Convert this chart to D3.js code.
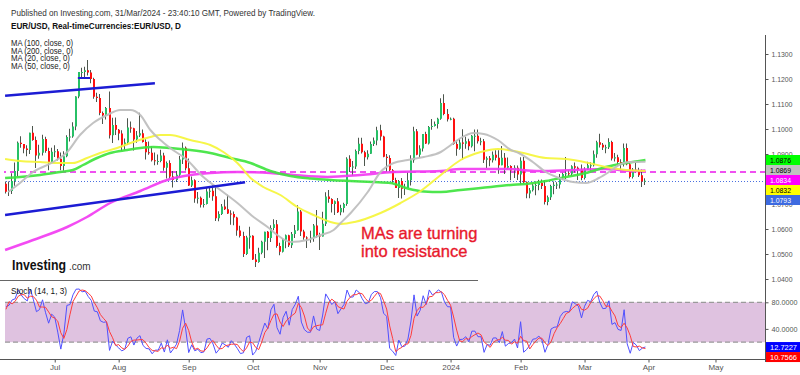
<!DOCTYPE html>
<html><head><meta charset="utf-8">
<script src="https://cdn.jsdelivr.net/npm/d3@7"></script>
<style>body{margin:0;background:#fff}svg{display:block;font-family:Arial,"Liberation Sans",sans-serif}</style>
</head><body><svg id="c" width="800" height="375"></svg>
<script>
// ---------- DATA (EUR/USD daily, [open, high, low, close]) ----------
const firstDay = '2023-05-23';
// history before the visible window (feeds the oscillator only)
const barsPre = [
[1.0775,1.0790,1.0747,1.0770],[1.0770,1.0787,1.0745,1.0751],[1.0751,1.0752,1.0720,1.0725],[1.0725,1.0746,1.0701,1.0722],
[1.0722,1.0730,1.0700,1.0708],[1.0708,1.0737,1.0673,1.0734],[1.0734,1.0736,1.0635,1.0688],[1.0688,1.0779,1.0664,1.0763],
[1.0763,1.0779,1.0706,1.0708],[1.0708,1.0730,1.0675,1.0712],[1.0712,1.0718,1.0667,1.0693],[1.0693,1.0708,1.0666,1.0698],
[1.0698,1.0786,1.0691,1.0781]];
const barsJun = [
[1.0781,1.0790,1.0742,1.0749],[1.0749,1.0790,1.0732,1.0752],[1.0752,1.0823,1.0740,1.0792],[1.0792,1.0866,1.0773,1.0832],
[1.0832,1.0950,1.0810,1.0945],[1.0945,1.0971,1.0925,1.0940],[1.0940,1.0940,1.0903,1.0922],[1.0922,1.0935,1.0891,1.0916],
[1.0916,1.0985,1.0900,1.0985],[1.0985,1.1012,1.0953,1.0956],[1.0956,1.0970,1.0844,1.0894],[1.0894,1.0937,1.0881,1.0905],
[1.0905,1.0977,1.0894,1.0960],[1.0960,1.0969,1.0905,1.0912],[1.0912,1.0925,1.0835,1.0868],[1.0868,1.0925,1.0866,1.0909]];
const barsJul = [
[1.0909,1.0935,1.0888,1.0911],[1.0911,1.0920,1.0874,1.0881],[1.0881,1.0906,1.0835,1.0852],[1.0852,1.0911,1.0833,1.0891],
[1.0891,1.0975,1.0887,1.0968],[1.0968,1.1001,1.0950,1.0970],[1.0970,1.1027,1.0965,1.1010],[1.1010,1.1131,1.0995,1.1130],
[1.1130,1.1228,1.1123,1.1228],[1.1228,1.1245,1.1204,1.1228],[1.1228,1.1249,1.1205,1.1235],[1.1235,1.1276,1.1214,1.1226],
[1.1226,1.1236,1.1183,1.1200],[1.1200,1.1205,1.1121,1.1129],[1.1129,1.1145,1.1108,1.1124],[1.1124,1.1140,1.1055,1.1064],
[1.1064,1.1070,1.1020,1.1054],[1.1054,1.1088,1.1038,1.1084],[1.1084,1.1150,1.0962,1.0975],[1.0975,1.1045,1.0944,1.1016],
[1.1016,1.1046,1.0976,1.0997]];
const barsAug = [
[1.0997,1.1000,1.0955,1.0982],[1.0982,1.0995,1.0912,1.0937],[1.0937,1.0962,1.0915,1.0946],[1.0946,1.1043,1.0936,1.1006],
[1.1006,1.1030,1.0985,1.1003],[1.1003,1.1005,1.0914,1.0958],[1.0958,1.0992,1.0945,1.0974],[1.0974,1.1065,1.0968,1.0983],
[1.0983,1.0998,1.0946,1.0948],[1.0948,1.0959,1.0878,1.0907],[1.0907,1.0950,1.0897,1.0905],[1.0905,1.0932,1.0870,1.0875],
[1.0875,1.0906,1.0855,1.0872],[1.0872,1.0898,1.0857,1.0872],[1.0872,1.0917,1.0867,1.0894],[1.0894,1.0905,1.0833,1.0845],
[1.0845,1.0870,1.0802,1.0864],[1.0864,1.0875,1.0800,1.0810],[1.0810,1.0832,1.0766,1.0796],[1.0796,1.0832,1.0788,1.0817],
[1.0817,1.0892,1.0807,1.0878],[1.0878,1.0946,1.0860,1.0925],[1.0925,1.0930,1.0834,1.0843]];
const barsSep = [
[1.0843,1.0882,1.0772,1.0774],[1.0774,1.0810,1.0768,1.0795],[1.0795,1.0799,1.0705,1.0722],[1.0722,1.0748,1.0702,1.0725],
[1.0725,1.0730,1.0686,1.0697],[1.0697,1.0720,1.0686,1.0700],[1.0700,1.0767,1.0698,1.0750],[1.0750,1.0767,1.0725,1.0753],
[1.0753,1.0775,1.0713,1.0731],[1.0731,1.0769,1.0632,1.0643],[1.0643,1.0671,1.0631,1.0660],[1.0660,1.0700,1.0656,1.0690],
[1.0690,1.0718,1.0676,1.0679],[1.0679,1.0737,1.0660,1.0662],[1.0662,1.0675,1.0617,1.0660],[1.0660,1.0670,1.0615,1.0646],
[1.0646,1.0649,1.0573,1.0594],[1.0594,1.0613,1.0566,1.0572],[1.0572,1.0589,1.0488,1.0500],[1.0500,1.0573,1.0496,1.0566],
[1.0566,1.0609,1.0521,1.0573]];
const barsOct = [
[1.0573,1.0575,1.0476,1.0478],[1.0478,1.0500,1.0448,1.0468],[1.0468,1.0525,1.0465,1.0505],[1.0505,1.0553,1.0499,1.0549],
[1.0549,1.0589,1.0484,1.0589],[1.0589,1.0592,1.0515,1.0564],[1.0564,1.0615,1.0548,1.0604],[1.0604,1.0639,1.0595,1.0619],
[1.0619,1.0636,1.0525,1.0532],[1.0532,1.0545,1.0495,1.0509],[1.0509,1.0561,1.0506,1.0557],[1.0557,1.0578,1.0523,1.0575],
[1.0575,1.0577,1.0528,1.0535],[1.0535,1.0588,1.0524,1.0580],[1.0580,1.0616,1.0564,1.0595],[1.0595,1.0695,1.0593,1.0670],
[1.0670,1.0676,1.0572,1.0590],[1.0590,1.0597,1.0557,1.0566],[1.0566,1.0571,1.0524,1.0565],[1.0565,1.0593,1.0545,1.0565],
[1.0565,1.0620,1.0549,1.0614],[1.0614,1.0676,1.0566,1.0575]];
const barsNov = [
[1.0575,1.0585,1.0516,1.0570],[1.0570,1.0669,1.0570,1.0621],[1.0621,1.0747,1.0612,1.0730],[1.0730,1.0756,1.0705,1.0720],
[1.0720,1.0723,1.0666,1.0700],[1.0700,1.0714,1.0656,1.0711],[1.0711,1.0724,1.0664,1.0667],[1.0667,1.0697,1.0655,1.0684],
[1.0684,1.0705,1.0666,1.0700],[1.0700,1.0887,1.0693,1.0881],[1.0881,1.0895,1.0828,1.0848],[1.0848,1.0872,1.0813,1.0850],
[1.0850,1.0918,1.0840,1.0912],[1.0912,1.0965,1.0899,1.0941],[1.0941,1.0965,1.0902,1.0907],[1.0907,1.0913,1.0852,1.0887],
[1.0887,1.0915,1.0878,1.0901],[1.0901,1.0950,1.0900,1.0940],[1.0940,1.0966,1.0932,1.0954],[1.0954,1.1009,1.0935,1.0995],
[1.0995,1.1017,1.0954,1.0970],[1.0970,1.0973,1.0887,1.0889]];
const barsDec = [
[1.0889,1.0900,1.0828,1.0884],[1.0884,1.0895,1.0827,1.0835],[1.0835,1.0840,1.0781,1.0796],[1.0796,1.0805,1.0764,1.0764],
[1.0764,1.0796,1.0724,1.0792],[1.0792,1.0804,1.0722,1.0761],[1.0761,1.0781,1.0736,1.0764],[1.0764,1.0828,1.0764,1.0795],
[1.0795,1.0895,1.0774,1.0875],[1.0875,1.1009,1.0865,1.0991],[1.0991,1.1000,1.0895,1.0897],[1.0897,1.0935,1.0885,1.0922],
[1.0922,1.0980,1.0910,1.0980],[1.0980,1.0989,1.0940,1.0942],[1.0942,1.1012,1.0938,1.1008],[1.1008,1.1040,1.0997,1.1012],
[1.1012,1.1030,1.1010,1.1020],[1.1020,1.1045,1.1002,1.1041],[1.1041,1.1123,1.1037,1.1104],[1.1104,1.1139,1.1055,1.1060],
[1.1060,1.1080,1.1030,1.1039]];
const barsJan = [
[1.1039,1.1046,1.1035,1.1041],[1.1041,1.1045,1.0937,1.0940],[1.0940,1.0955,1.0893,1.0921],[1.0921,1.0960,1.0917,1.0946],
[1.0946,1.0999,1.0877,1.0941],[1.0941,1.0969,1.0921,1.0951],[1.0951,1.0961,1.0915,1.0931],[1.0931,1.0976,1.0926,1.0973],
[1.0973,1.0998,1.0911,1.0973],[1.0973,1.0998,1.0942,1.0951],[1.0951,1.0965,1.0935,1.0951],[1.0951,1.0960,1.0864,1.0877],
[1.0877,1.0890,1.0844,1.0883],[1.0883,1.0892,1.0851,1.0875],[1.0875,1.0910,1.0866,1.0897],[1.0897,1.0915,1.0874,1.0885],
[1.0885,1.0915,1.0821,1.0855],[1.0855,1.0932,1.0855,1.0885],[1.0885,1.0904,1.0820,1.0845],[1.0845,1.0886,1.0838,1.0852],
[1.0852,1.0855,1.0795,1.0834],[1.0834,1.0855,1.0804,1.0845],[1.0845,1.0854,1.0796,1.0818]];
const barsFeb = [
[1.0818,1.0887,1.0778,1.0873],[1.0873,1.0888,1.0782,1.0787],[1.0787,1.0790,1.0723,1.0742],[1.0742,1.0764,1.0723,1.0755],
[1.0755,1.0783,1.0750,1.0774],[1.0774,1.0790,1.0735,1.0776],[1.0776,1.0797,1.0755,1.0784],[1.0784,1.0798,1.0760,1.0772],
[1.0772,1.0795,1.0698,1.0708],[1.0708,1.0734,1.0695,1.0727],[1.0727,1.0777,1.0716,1.0772],[1.0772,1.0790,1.0739,1.0777],
[1.0777,1.0787,1.0760,1.0778],[1.0778,1.0820,1.0762,1.0808],[1.0808,1.0825,1.0796,1.0820],[1.0820,1.0888,1.0800,1.0823],
[1.0823,1.0836,1.0812,1.0821],[1.0821,1.0855,1.0812,1.0851],[1.0851,1.0866,1.0826,1.0845],[1.0845,1.0850,1.0796,1.0838],
[1.0838,1.0858,1.0795,1.0804]];
const barsMar = [
[1.0804,1.0847,1.0798,1.0838],[1.0838,1.0869,1.0836,1.0855],[1.0855,1.0867,1.0833,1.0855],[1.0855,1.0914,1.0850,1.0899],
[1.0899,1.0953,1.0885,1.0947],[1.0947,1.0981,1.0926,1.0937],[1.0937,1.0944,1.0916,1.0926],[1.0926,1.0937,1.0903,1.0927],
[1.0927,1.0963,1.0920,1.0948],[1.0948,1.0953,1.0874,1.0882],[1.0882,1.0904,1.0870,1.0887],[1.0887,1.0897,1.0853,1.0868],
[1.0868,1.0879,1.0835,1.0865],[1.0865,1.0942,1.0850,1.0924],[1.0924,1.0942,1.0855,1.0859],[1.0859,1.0866,1.0802,1.0808],
[1.0808,1.0844,1.0802,1.0837],[1.0837,1.0864,1.0826,1.0830],[1.0830,1.0845,1.0808,1.0815],[1.0815,1.0838,1.0768,1.0790],
[1.0790,1.0803,1.0776,1.0793]];

// moving averages: [bar index, value]
const ma20 = [[0.7,1.0748],[4.6,1.0784],[8.9,1.0828],[15.5,1.0868],[20.1,1.0908],[24.3,1.0976],[28.6,1.1024],[33.2,1.1056],[37.5,1.1076],[40.8,1.1076],[44.1,1.1056],[47.4,1.0996],[50.7,1.0956],[53.9,1.0924],[59.5,1.0876],[64.8,1.0808],[70.4,1.0756],[76,1.0704],[81.3,1.0648],[85.9,1.0608],[89.1,1.0576],[93.4,1.0548],[99,1.0556],[103.3,1.0576],[107.6,1.0596],[109.9,1.0624],[113.2,1.0664],[118.8,1.0748],[123,1.0828],[127.3,1.0864],[131.9,1.0876],[137.2,1.0888],[142.8,1.0908],[146.1,1.0936],[149.3,1.0964],[153.6,1.0984],[156.9,1.0980],[161.5,1.0956],[165.8,1.0916],[168.4,1.0904],[173,1.0868],[177.3,1.0828],[181.6,1.0804],[186.2,1.0788],[190.5,1.0784],[194.7,1.0804],[198,1.0828],[201.3,1.0856],[204.6,1.0868],[210,1.0869]];
const ma50 = [[-0.3,1.0880],[4.6,1.0872],[11.2,1.0868],[17.8,1.0864],[22,1.0864],[26.6,1.0884],[30.9,1.0904],[36.5,1.0924],[41.8,1.0948],[47.4,1.0968],[50.7,1.0976],[53.9,1.0976],[60.5,1.0956],[67.1,1.0936],[71.4,1.0908],[76,1.0864],[80.3,1.0804],[84.5,1.0768],[90.1,1.0736],[95.7,1.0688],[101,1.0656],[106.6,1.0628],[110,1.0620],[114.5,1.0628],[123,1.0664],[129.6,1.0704],[136.2,1.0752],[142.8,1.0816],[149.3,1.0876],[155.9,1.0908],[161.5,1.0920],[168.4,1.0908],[177.3,1.0884],[183.9,1.0880],[191.4,1.0864],[197,1.0848],[203.6,1.0836],[210,1.0832]];
const ma100 = [[-0.3,1.0804],[4.6,1.0808],[11.2,1.0816],[17.8,1.0828],[22,1.0836],[25.3,1.0856],[29.9,1.0884],[34.2,1.0904],[39.8,1.0916],[44.1,1.0924],[48.4,1.0928],[53.9,1.0924],[60.5,1.0916],[67.1,1.0904],[73.7,1.0884],[80.3,1.0864],[86.8,1.0832],[93.4,1.0812],[100,1.0802],[106.6,1.0796],[113,1.0792],[120.7,1.0788],[126.3,1.0784],[131.9,1.0762],[137.2,1.0750],[142.8,1.0748],[149.3,1.0756],[155.9,1.0764],[165.8,1.0776],[170.7,1.0780],[177.3,1.0792],[183.9,1.0808],[190.5,1.0824],[197,1.0848],[203.6,1.0864],[210,1.0876]];
const ma200 = [[-0.3,1.0516],[8.9,1.0556],[20.1,1.0608],[26.6,1.0648],[34.2,1.0704],[44.1,1.0752],[53.9,1.0800],[60.5,1.0816],[67.1,1.0824],[76,1.0828],[86.8,1.0824],[94.4,1.0816],[105.6,1.0808],[116.4,1.0816],[127.3,1.0828],[142.8,1.0832],[149.3,1.0840],[164.1,1.0840],[175,1.0832],[186.2,1.0836],[197,1.0840],[205.9,1.0832],[210,1.0834]];

// drawings: [index1, price1, index2, price2]
const trendLines = [[-0.3,1.1133,48.9,1.1183],[-0.3,1.0656,78.5,1.0787],[23.6,1.1204,27.6,1.1204]];
const levelLine = 1.0828;
const priceTicks = [1.04,1.05,1.06,1.07,1.09,1.10,1.11,1.12,1.13];
const stochTicks = [40,80];
const monthStarts = ['2023-07-01','2023-08-01','2023-09-01','2023-10-01','2023-11-01','2023-12-01','2024-01-01','2024-02-01','2024-03-01','2024-04-01','2024-05-01'];
const monthLabels = ['Jul','Aug','Sep','Oct','Nov','Dec','2024','Feb','Mar','Apr','May'];
const lastValues = [
  {v:1.0876, bg:'#00ff00', fg:'#000'},
  {v:1.0869, bg:'#c0c0c0', fg:'#000'},
  {v:1.0834, bg:'#ff00ff', fg:'#fff'},
  {v:1.0832, bg:'#ffff00', fg:'#000'},
  {v:1.0793, bg:'#3d6ae0', fg:'#fff'}];
const stochLast = [{v:12.7227, bg:'#0000ff'},{v:10.7566, bg:'#ff0000'}];
const stochPeriod = 14, stochSmoothD = 3;

// ---------- BUILD ----------
const allBars = [...barsPre,...barsJun,...barsJul,...barsAug,...barsSep,...barsOct,...barsNov,...barsDec,...barsJan,...barsFeb,...barsMar];
const PRE = barsPre.length;
const cal = [];
for (let d = new Date(firstDay+'T00:00:00Z'); cal.length < PRE+270; d.setUTCDate(d.getUTCDate()+1)) {
  const w = d.getUTCDay(); if (w>0 && w<6) cal.push(new Date(d));
}
const idxOf = s => { const t = Date.parse(s+'T00:00:00Z'); return cal.findIndex(d => d.getTime() >= t) - PRE; };

const bars = allBars.map((b,k) => ({i:k-PRE, o:b[0], h:b[1], l:b[2], c:b[3]}));
// Stochastic (14,1,3)
bars.forEach((b,k) => {
  const w = bars.slice(Math.max(0,k-stochPeriod+1), k+1);
  const hh = d3.max(w, d=>d.h), ll = d3.min(w, d=>d.l);
  b.k = hh>ll ? 100*(b.c-ll)/(hh-ll) : 50;
});
bars.forEach((b,k) => { b.d = d3.mean(bars.slice(Math.max(0,k-stochSmoothD+1), k+1), d=>d.k); });
const shown = bars.filter(b => b.i >= 0);

const svg = d3.select('#c');
const AX = 765;
const FONT = 'Arial, "Liberation Sans", sans-serif';
const x = d3.scaleLinear().domain([0,250]).range([6, 6+250*3.045]);
const yP = d3.scaleLinear().domain([1.04,1.13]).range([279,54]);
const yS = d3.scaleLinear().domain([0,100]).range([355.5,289]);

const defs = svg.append('defs');
defs.append('clipPath').attr('id','cm').append('rect').attr('x',4).attr('y',30).attr('width',AX-4).attr('height',250);
defs.append('clipPath').attr('id','cs').append('rect').attr('x',4).attr('y',282).attr('width',AX-4).attr('height',77);

// header texts
svg.append('text').attr('x',11).attr('y',16).attr('font-size',9.5).attr('fill','#333')
  .attr('textLength',304).attr('lengthAdjust','spacingAndGlyphs')
  .text('Published on Investing.com, 31/Mar/2024 - 23:40:10 GMT, Powered by TradingView.');
svg.append('text').attr('x',11).attr('y',28.5).attr('font-size',9.5).attr('font-weight','bold').attr('fill','#111')
  .attr('textLength',170).attr('lengthAdjust','spacingAndGlyphs')
  .text('EUR/USD, Real-timeCurrencies:EUR/USD, D');

// main panel
const gm = svg.append('g').attr('clip-path','url(#cm)');
gm.append('line').attr('x1',0).attr('x2',AX).attr('y1',yP(levelLine)).attr('y2',yP(levelLine))
  .attr('stroke','#f050f0').attr('stroke-width',2).attr('stroke-dasharray','6,4');
const lastY = Math.round(yP(bars[bars.length-1].c))+0.5;
gm.append('line').attr('x1',0).attr('x2',AX).attr('y1',lastY).attr('y2',lastY)
  .attr('stroke','#4a6fe0').attr('stroke-width',1).attr('stroke-dasharray','1,2');

// candles
const cx = d => Math.round(x(d.i));
gm.selectAll('line.wick').data(shown).join('line').attr('class','wick')
  .attr('x1',d=>cx(d)-0.5).attr('x2',d=>cx(d)-0.5).attr('y1',d=>yP(d.h)).attr('y2',d=>yP(d.l))
  .attr('stroke','#4d564d').attr('stroke-width',1);
gm.selectAll('rect.body').data(shown).join('rect').attr('class','body')
  .attr('x',d=>cx(d)-1).attr('width',2)
  .attr('y',d=>yP(Math.max(d.o,d.c)))
  .attr('height',d=>Math.max(1, Math.abs(yP(d.o)-yP(d.c))))
  .attr('fill',d=>d.c>=d.o ? '#27c066' : '#ff1010');

// moving averages
const maLine = d3.line().x(d=>x(d[0])).y(d=>yP(d[1])).curve(d3.curveMonotoneX);
[[ma200,'#f23cf2',2.5],[ma100,'#3fe43f',2.5],[ma50,'#f5f53a',2],[ma20,'#bdbdbd',2]].forEach(([data,col,w]) => {
  gm.append('path').attr('d',maLine(data)).attr('fill','none').attr('stroke',col).attr('stroke-width',w).attr('stroke-opacity',0.92);
});

// trend lines
gm.selectAll('line.trend').data(trendLines).join('line').attr('class','trend')
  .attr('x1',d=>x(d[0])).attr('y1',d=>yP(d[1])).attr('x2',d=>x(d[2])).attr('y2',d=>yP(d[3]))
  .attr('stroke','#1c1cd4').attr('stroke-width',(d,i)=>i<2?2.5:2);

// legend
['MA (100, close, 0)','MA (200, close, 0)','MA (20, close, 0)','MA (50, close, 0)'].forEach((t,i)=>{
  svg.append('text').attr('x',11).attr('y',46+i*7.7).attr('font-size',8.8).attr('fill','#222')
    .attr('textLength', i<2?62:59).attr('lengthAdjust','spacingAndGlyphs').text(t);
});

// annotation
const ann = svg.append('text').attr('font-size',16.5).attr('fill','#e8192c').attr('stroke','#e8192c').attr('stroke-width',0.35);
ann.append('tspan').attr('x',361).attr('y',239).text('MAs are turning');
ann.append('tspan').attr('x',361).attr('y',257).text('into resistance');

// logo
svg.append('text').attr('x',12).attr('y',270).attr('fill','#111').attr('font-size',14).attr('font-weight','bold')
  .attr('textLength',54).attr('lengthAdjust','spacingAndGlyphs').text('Investing');
svg.append('text').attr('x',69).attr('y',270).attr('fill','#333').attr('font-size',10).text('.com');

svg.append('line').attr('x1',0).attr('x2',478).attr('y1',280.5).attr('y2',280.5).attr('stroke','#666').attr('stroke-width',1);

// stochastic panel
const gs = svg.append('g').attr('clip-path','url(#cs)');
gs.append('rect').attr('x',5).attr('width',AX-5).attr('y',yS(80)).attr('height',yS(20)-yS(80)).attr('fill','#dfc2e0');
[80,20].forEach(v=>gs.append('line').attr('x1',5).attr('x2',AX).attr('y1',yS(v)).attr('y2',yS(v))
  .attr('stroke','#9a9a9a').attr('stroke-width',1.2).attr('stroke-dasharray','5,3'));
gs.append('path').datum(shown).attr('d',d3.line().x(d=>x(d.i)).y(d=>yS(d.k))).attr('fill','none').attr('stroke','#5050ff').attr('stroke-width',1);
gs.append('path').datum(shown).attr('d',d3.line().x(d=>x(d.i)).y(d=>yS(d.d))).attr('fill','none').attr('stroke','#ff3c3c').attr('stroke-width',1);
svg.append('text').attr('x',11).attr('y',294).attr('font-size',9).attr('fill','#111')
  .attr('textLength',56).attr('lengthAdjust','spacingAndGlyphs').text('Stoch (14, 1, 3)');

// axes
svg.append('line').attr('x1',AX+0.5).attr('x2',AX+0.5).attr('y1',35).attr('y2',362).attr('stroke','#555');
svg.append('line').attr('x1',0).attr('x2',AX).attr('y1',359.5).attr('y2',359.5).attr('stroke','#555');

const pa = svg.append('g').attr('transform',`translate(${AX+0.5},0)`)
  .call(d3.axisRight(yP).tickValues(priceTicks).tickFormat(d3.format('.4f')).tickSize(3).tickPadding(3));
const sa = svg.append('g').attr('transform',`translate(${AX+0.5},0)`)
  .call(d3.axisRight(yS).tickValues(stochTicks).tickFormat(d3.format('.4f')).tickSize(3).tickPadding(3));
const xa = svg.append('g').attr('transform','translate(0,359.5)')
  .call(d3.axisBottom(x).tickValues(monthStarts.map(idxOf)).tickFormat((d,i)=>monthLabels[i]).tickSize(3).tickPadding(2));
[pa,sa,xa].forEach(a=>{
  a.select('.domain').remove();
  a.selectAll('line').attr('stroke','#555');
  a.selectAll('text').attr('font-size',8).attr('fill','#555').attr('font-family',FONT);
});
pa.selectAll('text').attr('textLength',21).attr('lengthAdjust','spacingAndGlyphs');
sa.selectAll('text').attr('textLength',26).attr('lengthAdjust','spacingAndGlyphs');

// last value labels (stacked)
function tags(list, scale, h, tl) {
  const items = list.map(d=>({...d, y:scale(d.v)})).sort((a,b)=>a.y-b.y);
  let prev = -1e9;
  items.forEach(it=>{ it.y = Math.max(it.y, prev+h); prev = it.y; });
  const g = svg.append('g');
  g.selectAll('rect').data(items).join('rect').attr('x',AX+1).attr('y',d=>d.y-h/2).attr('width',35).attr('height',h).attr('fill',d=>d.bg);
  g.selectAll('text').data(items).join('text').attr('x',AX+5).attr('y',d=>d.y+3).attr('font-size',8)
    .attr('textLength',tl).attr('lengthAdjust','spacingAndGlyphs')
    .attr('fill',d=>d.fg||'#fff').text(d=>d3.format('.4f')(d.v));
}
tags(lastValues, yP, 10, 21);
tags(stochLast, yS, 10, 27);
</script></body></html>
